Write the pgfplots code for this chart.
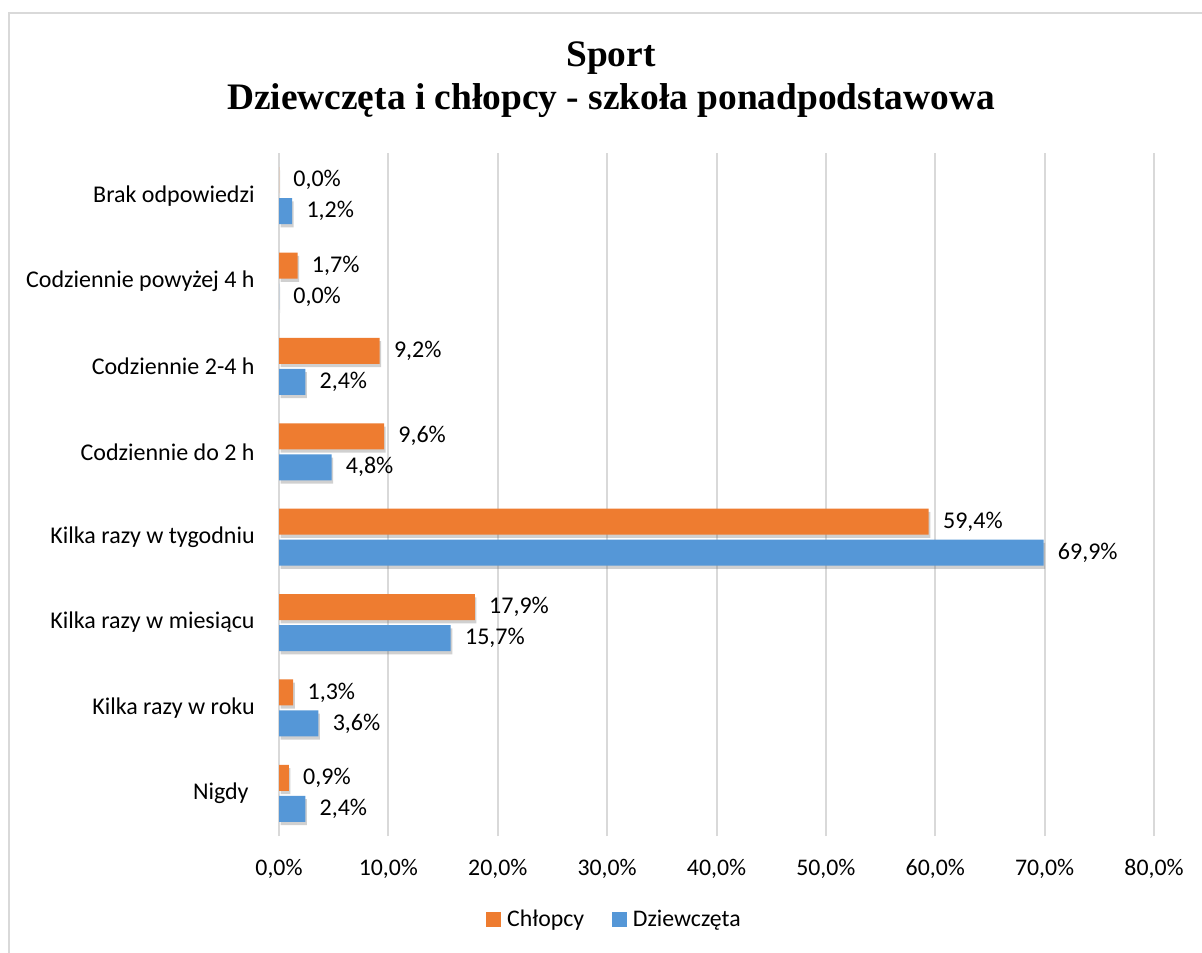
\documentclass[border=0pt]{standalone}
\usepackage{pgfplots}
\pgfplotsset{compat=1.18}
\usepackage{fontspec}
\setmainfont{Carlito}
\newfontfamily\titlefont{Liberation Serif}
\usetikzlibrary{shadows}
\definecolor{oM}{HTML}{EE7C30}
\definecolor{bM}{HTML}{5597D7}
\definecolor{gridgray}{HTML}{D9D9D9}
\begin{document}
\begin{tikzpicture}
\useasboundingbox (0,0) rectangle (601pt,476pt);
\fill[white] (0,0) rectangle (601pt,476pt);
\draw[gridgray, line width=0.8pt] (4.5pt,469.6pt) rectangle (640pt,-20pt);
\node[anchor=base, font=\titlefont\bfseries\fontsize{18.7pt}{22pt}\selectfont] at (305.5pt,442.5pt) {Sport};
\node[anchor=base, font=\titlefont\bfseries\fontsize{18.7pt}{22pt}\selectfont] at (305.5pt,421pt) {Dziewczęta i chłopcy - szkoła ponadpodstawowa};
\begin{axis}[
  at={(139.5pt,58pt)}, anchor=south west,
  scale only axis, width=437.5pt, height=341.5pt,
  xbar, bar width=13pt,
  xmin=0, xmax=80, ymin=-0.5, ymax=7.5,
  xtick={0,10,...,80},
  xticklabels={{0,0\%},{10,0\%},{20,0\%},{30,0\%},{40,0\%},{50,0\%},{60,0\%},{70,0\%},{80,0\%}},
  ytick={0,...,7},
  yticklabels={Nigdy\kern3pt,Kilka razy w roku,Kilka razy w miesiącu,Kilka razy w tygodniu,Codziennie do 2 h,Codziennie 2-4 h,Codziennie powyżej 4 h,Brak odpowiedzi},
  major tick length=0pt,
  axis line style={draw=none},
  xmajorgrids, grid style={gridgray, line width=1pt},
  xticklabel style={anchor=base, inner sep=0pt, yshift=-19.6pt, font=\fontsize{11.9pt}{14pt}\selectfont},
  yticklabel style={anchor=east, inner sep=0pt, xshift=-12pt, font=\fontsize{12pt}{14pt}\selectfont},
  /pgf/number format/assume math mode=true,
  point meta=x,
  nodes near coords={\pgfmathprintnumber[fixed, fixed zerofill, precision=1, use comma]{\pgfplotspointmeta}\%},
  nodes near coords style={anchor=west, inner sep=0pt, xshift=7pt, font=\fontsize{12pt}{14pt}\selectfont, black},
  legend style={at={(0.3846,-0.123)}, anchor=center, draw=none, fill=none, legend columns=2,
    font=\fontsize{11.9pt}{14pt}\selectfont,
    /tikz/every even column/.append style={column sep=12pt}},
  legend cell align=left,
]
\addlegendimage{legend image code/.code={\fill[oM] (0pt,-3pt) rectangle (7pt,4pt); \path (8pt,0pt);}}
\addlegendentry{Chłopcy}
\addlegendimage{legend image code/.code={\fill[bM] (0pt,-3pt) rectangle (7pt,4pt); \path (8pt,0pt);}}
\addlegendentry{Dziewczęta}
\addplot[forget plot, bar shift=7.75pt, draw=none, fill=oM,
  drop shadow={shadow xshift=0.8pt, shadow yshift=-1.6pt, opacity=0.3, fill=black!60}]
  coordinates {(0.9,0) (1.3,1) (17.9,2) (59.4,3) (9.6,4) (9.2,5) (1.7,6) (0.0,7)};
\addplot[forget plot, bar shift=-7.75pt, draw=none, fill=bM,
  drop shadow={shadow xshift=0.8pt, shadow yshift=-1.6pt, opacity=0.3, fill=black!60}]
  coordinates {(2.4,0) (3.6,1) (15.7,2) (69.9,3) (4.8,4) (2.4,5) (0.0,6) (1.2,7)};
\end{axis}
\end{tikzpicture}
\end{document}
